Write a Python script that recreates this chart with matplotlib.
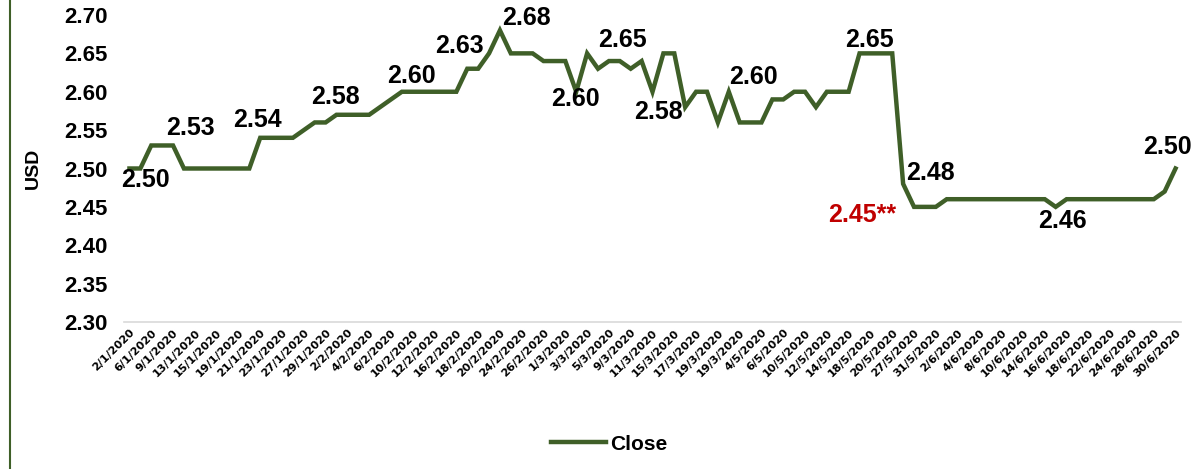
import matplotlib
matplotlib.use("Agg")
import matplotlib.pyplot as plt
from matplotlib.lines import Line2D

plt.rcParams['font.family'] = ['Liberation Sans', 'DejaVu Sans']

# ---- data ----
close = [2.50, 2.50, 2.53, 2.53, 2.53,
         2.50, 2.50, 2.50, 2.50, 2.50, 2.50, 2.50,
         2.54, 2.54, 2.54, 2.54,
         2.55, 2.56, 2.56,
         2.57, 2.57, 2.57, 2.57,
         2.58, 2.59,
         2.60, 2.60, 2.60, 2.60, 2.60, 2.60,
         2.63, 2.63, 2.65, 2.68,
         2.65, 2.65, 2.65,
         2.64, 2.64, 2.64,
         2.60, 2.65, 2.63, 2.64, 2.64, 2.63, 2.64, 2.60, 2.65, 2.65,
         2.58, 2.60, 2.60, 2.56, 2.60,
         2.56, 2.56, 2.56,
         2.59, 2.59, 2.60, 2.60, 2.58,
         2.60, 2.60, 2.60,
         2.65, 2.65, 2.65, 2.65,
         2.48,
         2.45, 2.45, 2.45,
         2.46, 2.46, 2.46, 2.46, 2.46, 2.46, 2.46, 2.46, 2.46, 2.46,
         2.45,
         2.46, 2.46, 2.46, 2.46, 2.46, 2.46, 2.46, 2.46, 2.46,
         2.47, 2.50]

tick_labels = ["2/1/2020", "6/1/2020", "9/1/2020", "13/1/2020", "15/1/2020",
               "19/1/2020", "21/1/2020", "23/1/2020", "27/1/2020", "29/1/2020",
               "2/2/2020", "4/2/2020", "6/2/2020", "10/2/2020", "12/2/2020",
               "16/2/2020", "18/2/2020", "20/2/2020", "24/2/2020", "26/2/2020",
               "1/3/2020", "3/3/2020", "5/3/2020", "9/3/2020", "11/3/2020",
               "15/3/2020", "17/3/2020", "19/3/2020", "19/3/2020",
               "4/5/2020", "6/5/2020", "10/5/2020", "12/5/2020", "14/5/2020",
               "18/5/2020", "20/5/2020", "27/5/2020", "31/5/2020",
               "2/6/2020", "4/6/2020", "8/6/2020", "10/6/2020", "14/6/2020",
               "16/6/2020", "18/6/2020", "22/6/2020", "24/6/2020", "28/6/2020",
               "30/6/2020"]

label_texts = ["2.50", "2.53", "2.54", "2.58", "2.60", "2.63", "2.68", "2.60",
               "2.65", "2.58", "2.60", "2.65", "2.48", "2.45**", "2.46", "2.50"]
label_x = [1.47, 5.6, 11.72, 18.94, 25.87, 30.28, 36.42, 40.96,
           45.23, 48.53, 57.29, 67.89, 73.48, 67.25, 85.6, 95.25]
label_y = [2.4855, 2.5528, 2.5632, 2.5932, 2.6205, 2.6596, 2.6967, 2.5906,
           2.6674, 2.5736, 2.6186, 2.6674, 2.4941, 2.4394, 2.4319, 2.5274]
label_colors = ["black"] * 13 + ["#C00000"] + ["black"] * 2

GREEN = "#3F5F28"

fig = plt.figure(figsize=(11.96, 4.69), dpi=100)
ax = fig.add_axes([124 / 1196, 1 - 322 / 469, 1057 / 1196, 307 / 469])

x = list(range(len(close)))
ax.plot(x, close, color=GREEN, lw=3.2, solid_joinstyle='miter', label="Close")

ax.set_ylim(2.30, 2.70)
ax.set_xlim(-0.5, len(close) - 0.5)
ax.set_yticks([2.30, 2.35, 2.40, 2.45, 2.50, 2.55, 2.60, 2.65, 2.70])
ax.set_yticklabels([f"{v:.2f}" for v in ax.get_yticks()],
                   fontsize=16, fontweight='bold')
ax.set_xticks(list(range(0, len(close), 2)))
ax.set_xticklabels(tick_labels, rotation=45, ha='right', rotation_mode='anchor',
                   fontsize=8, fontweight='bold', family='DejaVu Sans')
ax.tick_params(axis='both', length=0)
ax.tick_params(axis='x', pad=4)
ax.tick_params(axis='y', pad=12)

for s in ['top', 'right', 'left']:
    ax.spines[s].set_visible(False)
ax.spines['bottom'].set_color('#d9d9d9')
ax.spines['bottom'].set_linewidth(1.2)

ax.set_ylabel("USD", fontsize=14, fontweight='bold', labelpad=16)

for t, lx, ly, c in zip(label_texts, label_x, label_y, label_colors):
    ax.text(lx, ly, t, ha='center', va='center', fontsize=18,
            fontweight='bold', color=c)

leg = fig.legend(handles=[Line2D([0], [0], color=GREEN, lw=3.2)],
                 labels=["Close"], loc='center', bbox_to_anchor=(609 / 1196, 1 - 444 / 469),
                 frameon=False, prop={'weight': 'bold', 'size': 15},
                 handlelength=2.65, handletextpad=0.2)

fig.add_artist(Line2D([10 / 1196, 10 / 1196], [0, 1], color=GREEN, lw=1.5,
                      transform=fig.transFigure))

fig.savefig("out.png", dpi=100)
